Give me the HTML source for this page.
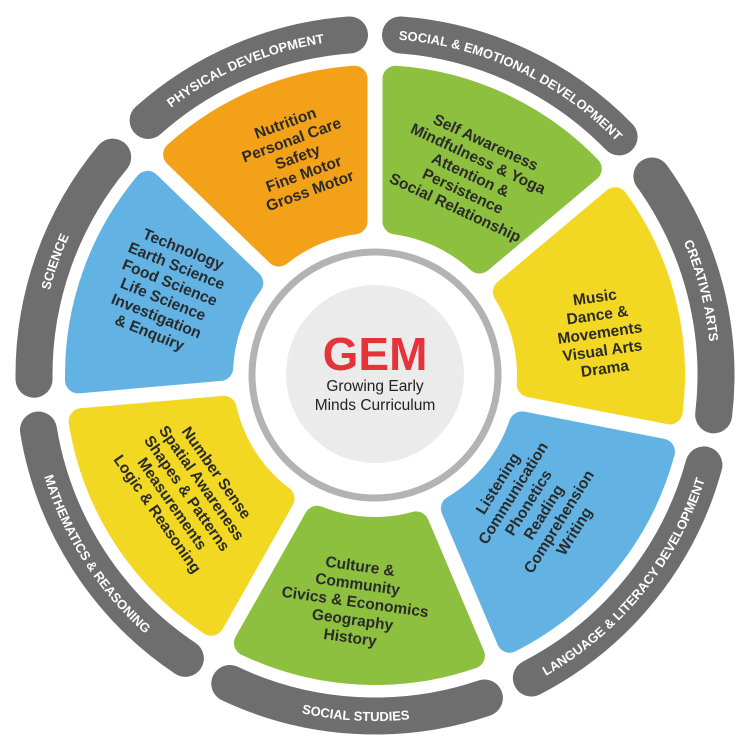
<!DOCTYPE html>
<html><head><meta charset="utf-8"><style>
html,body{margin:0;padding:0;background:#fff}
svg{display:block}
.rt{font-family:"Liberation Sans",sans-serif;font-weight:bold;font-size:13px;fill:#fff}
.pt{font-family:"Liberation Sans",sans-serif;font-weight:bold;font-size:15.5px;fill:#2a2a2a;text-anchor:middle}
</style></head><body>
<svg id="s" width="750" height="750" viewBox="0 0 750 750" xmlns="http://www.w3.org/2000/svg">
<g id="petals"></g>
<g id="ring"></g>
<defs id="defs"></defs>
<circle cx="375" cy="375" r="123" fill="#fff" stroke="#b3b3b3" stroke-width="7"/>
<circle cx="375" cy="374" r="89" fill="#ebebeb"/>
<text x="375" y="370" text-anchor="middle" font-family="Liberation Sans,sans-serif" font-weight="bold" font-size="46" fill="#e5333a">GEM</text>
<text x="375" y="391" text-anchor="middle" font-family="Liberation Sans,sans-serif" font-size="15.5" fill="#222">Growing Early</text>
<text x="375" y="410" text-anchor="middle" font-family="Liberation Sans,sans-serif" font-size="15.5" fill="#222">Minds Curriculum</text>

<text class="rt"><textPath href="#rp0" startOffset="50%" text-anchor="middle">SOCIAL &amp; EMOTIONAL DEVELOPMENT</textPath></text>
<text class="rt"><textPath href="#rp1" startOffset="50%" text-anchor="middle">CREATIVE ARTS</textPath></text>
<text class="rt"><textPath href="#rp2" startOffset="50%" text-anchor="middle">LANGUAGE &amp; LITERACY DEVELOPMENT</textPath></text>
<text class="rt"><textPath href="#rp3" startOffset="50%" text-anchor="middle">SOCIAL STUDIES</textPath></text>
<text class="rt"><textPath href="#rp4" startOffset="50%" text-anchor="middle">MATHEMATICS &amp; REASONING</textPath></text>
<text class="rt"><textPath href="#rp5" startOffset="50%" text-anchor="middle">SCIENCE</textPath></text>
<text class="rt"><textPath href="#rp6" startOffset="50%" text-anchor="middle">PHYSICAL DEVELOPMENT</textPath></text>

<text class="pt" transform="translate(470,176) rotate(25)"><tspan x="0" y="-32">Self Awareness</tspan><tspan x="0" y="-14">Mindfulness &amp; Yoga</tspan><tspan x="0" y="4">Attention &amp;</tspan><tspan x="0" y="22">Persistence</tspan><tspan x="0" y="40">Social Relationship</tspan></text>
<text class="pt" transform="translate(600,334) rotate(-8)"><tspan x="0" y="-32">Music</tspan><tspan x="0" y="-14">Dance &amp;</tspan><tspan x="0" y="4">Movements</tspan><tspan x="0" y="22">Visual Arts</tspan><tspan x="0" y="40">Drama</tspan></text>
<text class="pt" transform="translate(537,508) rotate(-58)"><tspan x="0" y="-41">Listening</tspan><tspan x="0" y="-23">Communication</tspan><tspan x="0" y="-5">Phonetics</tspan><tspan x="0" y="13">Reading</tspan><tspan x="0" y="31">Comprehension</tspan><tspan x="0" y="49">Writing</tspan></text>
<text class="pt" transform="translate(355,603) rotate(8)"><tspan x="0" y="-32">Culture &amp;</tspan><tspan x="0" y="-14">Community</tspan><tspan x="0" y="4">Civics &amp; Economics</tspan><tspan x="0" y="22">Geography</tspan><tspan x="0" y="40">History</tspan></text>
<text class="pt" transform="translate(186,494) rotate(55)"><tspan x="0" y="-32">Number Sense</tspan><tspan x="0" y="-14">Spatial Awareness</tspan><tspan x="0" y="4">Shapes &amp; Patterns</tspan><tspan x="0" y="22">Measurements</tspan><tspan x="0" y="40">Logic &amp; Reasoning</tspan></text>
<text class="pt" transform="translate(166,292) rotate(22)"><tspan x="0" y="-41">Technology</tspan><tspan x="0" y="-23">Earth Science</tspan><tspan x="0" y="-5">Food Science</tspan><tspan x="0" y="13">Life Science</tspan><tspan x="0" y="31">Investigation</tspan><tspan x="0" y="49">&amp; Enquiry</tspan></text>
<text class="pt" transform="translate(298,158) rotate(-20)"><tspan x="0" y="-32">Nutrition</tspan><tspan x="0" y="-14">Personal Care</tspan><tspan x="0" y="4">Safety</tspan><tspan x="0" y="22">Fine Motor</tspan><tspan x="0" y="40">Gross Motor</tspan></text>
</svg>
<script>
(function(){
var C=375,NS="http://www.w3.org/2000/svg";
var A=[0,50,101,157,209.5,265,314,360];
function P(t,r){var a=t*Math.PI/180;return [C+r*Math.sin(a),C-r*Math.cos(a)];}
function f(p){return p[0].toFixed(2)+" "+p[1].toFixed(2);}
function deg(x){return x*180/Math.PI;}
var cols=["#8dc03f","#f2d822","#62b3e4","#8dc03f","#f2d822","#62b3e4","#f4a11a"];
var pg=document.getElementById("petals"),rg=document.getElementById("ring"),df=document.getElementById("defs");
var Ri=142,Ro=310,g=7.5,rho=13;
for(var i=0;i<7;i++){
 var a1=A[i],a2=A[i+1],d=g+rho,ro=Ro-rho,ri=Ri+rho;
 var o1=a1+deg(Math.asin(d/ro)),o2=a2-deg(Math.asin(d/ro));
 var i1=a1+deg(Math.asin(d/ri)),i2=a2-deg(Math.asin(d/ri));
 var path="M"+f(P(i1,ri))+" L"+f(P(o1,ro))+" A"+ro+" "+ro+" 0 0 1 "+f(P(o2,ro))+" L"+f(P(i2,ri))+" A"+ri+" "+ri+" 0 0 0 "+f(P(i1,ri))+"Z";
 var e=document.createElementNS(NS,"path");e.setAttribute("d",path);e.setAttribute("fill",cols[i]);
 e.setAttribute("stroke",cols[i]);e.setAttribute("stroke-width",2*rho);e.setAttribute("stroke-linejoin","round");pg.appendChild(e);
 var rm=341,hw=18.5,dd=7+hw,b1=a1+deg(Math.asin(dd/rm)),b2=a2-deg(Math.asin(dd/rm));
 var r=document.createElementNS(NS,"path");
 r.setAttribute("d","M"+f(P(b1,rm))+" A"+rm+" "+rm+" 0 0 1 "+f(P(b2,rm)));
 r.setAttribute("fill","none");r.setAttribute("stroke","#6e6e6e");r.setAttribute("stroke-width",2*hw);r.setAttribute("stroke-linecap","round");rg.appendChild(r);
 var tp=document.createElementNS(NS,"path");tp.setAttribute("id","rp"+i);
 var cw=(i==0||i==1||i==5||i==6);
 var e1=a1-10,e2=a2+10;
 if(cw){var rr=336;tp.setAttribute("d","M"+f(P(e1,rr))+" A"+rr+" "+rr+" 0 0 1 "+f(P(e2,rr)));}
 else{var rr=346;tp.setAttribute("d","M"+f(P(e2,rr))+" A"+rr+" "+rr+" 0 0 0 "+f(P(e1,rr)));}
 df.appendChild(tp);
}
})();
</script>
</body></html>
